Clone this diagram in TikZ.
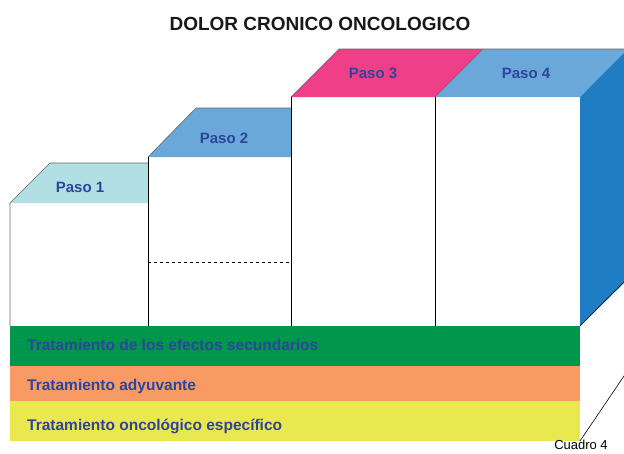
\documentclass[tikz,border=0pt]{standalone}
\usepackage{fontspec}
\setmainfont{Liberation Sans}
\usepackage{tikz}

\definecolor{pasouno}{HTML}{B2DFE3}
\definecolor{pasoazul}{HTML}{6BA8DA}
\definecolor{pasorosa}{HTML}{EE3F88}
\definecolor{ladoazul}{HTML}{1F7EC3}
\definecolor{bandaverde}{HTML}{00964B}
\definecolor{bandanaranja}{HTML}{F79A63}
\definecolor{bandaamarilla}{HTML}{EAE84F}
\definecolor{textoazul}{HTML}{2E459C}

\tikzset{
  paso/.style={font=\bfseries\fontsize{15}{18}\selectfont, text=textoazul, inner sep=0pt, anchor=base},
  banda/.style={font=\bfseries\fontsize{15.5}{18}\selectfont, text=textoazul, inner sep=0pt, anchor=base west},
  arista/.style={draw=black!60, line width=0.6pt}
}

\begin{document}
\begin{tikzpicture}[x=1pt, y=-1pt]
				\useasboundingbox (0,0) rectangle (624,453);
				\fill[white] (0,0) rectangle (624,453);

				% Title
				\node[font=\bfseries\fontsize{19}{22}\selectfont, text=black!90, inner sep=0pt, anchor=base] (titulo) at (320, 30) {DOLOR CRONICO ONCOLOGICO};

				% Top faces of the steps
				\fill[pasouno] (10,203) -- (50,163) -- (148,163) -- (148,203) -- cycle; % paso 1
				\fill[pasoazul] (148,157) -- (196,108) -- (291,108) -- (291,157) -- cycle; % paso 2
				\fill[pasorosa] (291,97) -- (339,49) -- (483,49) -- (435,97) -- cycle; % paso 3
				\fill[pasoazul] (435,97) -- (483,49) -- (630,49) -- (580,97) -- cycle; % paso 4

				% Right side face
				\fill[ladoazul] (580,97) -- (630,47) -- (630,277) -- (580,326) -- cycle;

				% Face edges
				\draw[arista] (10,326) -- (10,203) -- (50,163) -- (148,163);
				\draw[arista] (148,157) -- (196,108) -- (291,108);
				\draw[arista] (291,97) -- (339,49) -- (630,49);
				\draw[arista] (435,97) -- (483,49);

				% Step walls
				\draw[line width=0.7pt] (148,157) -- (148,326);
				\draw[line width=0.7pt] (291,97) -- (291,326);
				\draw[line width=0.7pt] (435,97) -- (435,326);
				\draw[dashed, line width=0.7pt] (148,262) -- (291,262); % dashed division

				% Step labels
				\node[paso] (paso1) at (80, 192) {Paso 1};
				\node[paso] (paso2) at (224, 143) {Paso 2};
				\node[paso] (paso3) at (373, 78) {Paso 3};
				\node[paso] (paso4) at (526, 78) {Paso 4};

				% Bands
				\fill[bandaverde] (10,326) rectangle (580,366);
				\fill[bandanaranja] (10,366) rectangle (580,401);
				\fill[bandaamarilla] (10,401) rectangle (580,441);

				\node[banda] (efectos) at (27, 350) {Tratamiento de los efectos secundarios};
				\node[banda] (adyuvante) at (27, 390) {Tratamiento adyuvante};
				\node[banda] (especifico) at (27, 430) {Tratamiento oncológico específico};

				% Base edges
				\coordinate (esquina) at (580,326);
				\coordinate (fondo) at (580,441);
				\draw[line width=0.6pt] (esquina) -- (624,282);
				\draw[line width=0.6pt] (fondo) -- (626,373);

				\node[font=\fontsize{13}{15}\selectfont, inner sep=0pt, anchor=base] (cuadro) at (581, 449) {Cuadro 4};
			\end{tikzpicture}
\end{document}
